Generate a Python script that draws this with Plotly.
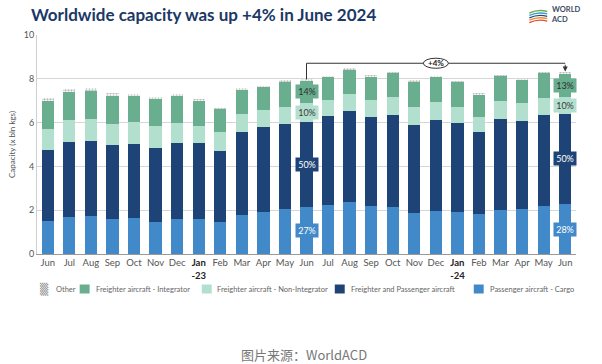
import plotly.graph_objects as go

# ---------------- data ----------------
months = ["Jun", "Jul", "Aug", "Sep", "Oct", "Nov", "Dec", "Jan-23", "Feb", "Mar", "Apr", "May",
          "Jun", "Jul", "Aug", "Sep", "Oct", "Nov", "Dec", "Jan-24", "Feb", "Mar", "Apr", "May", "Jun"]

passenger_cargo = [1.52, 1.70, 1.72, 1.61, 1.64, 1.47, 1.61, 1.61, 1.44, 1.76, 1.91, 2.04,
                   2.13, 2.26, 2.36, 2.20, 2.16, 1.85, 1.98, 1.91, 1.81, 1.99, 2.07, 2.19, 2.28]
freighter_passenger = [3.25, 3.42, 3.45, 3.36, 3.38, 3.38, 3.44, 3.44, 3.26, 3.82, 3.87, 3.89,
                       3.92, 4.02, 4.17, 4.05, 4.18, 4.02, 4.16, 4.08, 3.77, 4.16, 4.01, 4.15, 4.12]
freighter_non_integrator = [0.96, 1.00, 0.98, 0.96, 1.00, 1.00, 0.95, 0.80, 0.88, 0.82, 0.79, 0.80,
                            0.86, 0.77, 0.78, 0.79, 0.83, 0.86, 0.82, 0.74, 0.67, 0.84, 0.80, 0.79, 0.77]
freighter_integrator = [1.27, 1.30, 1.28, 1.27, 1.24, 1.26, 1.25, 1.15, 1.05, 1.12, 1.06, 1.14,
                        1.01, 1.04, 1.12, 1.06, 1.11, 1.14, 1.13, 1.13, 1.03, 1.14, 1.08, 1.14, 1.07]
other = [0.14, 0.13, 0.14, 0.14, 0.03, 0.03, 0.04, 0.04, 0.03, 0.03, 0.03, 0.03,
         0.03, 0.03, 0.04, 0.03, 0.03, 0.03, 0.03, 0.03, 0.03, 0.03, 0.03, 0.03, 0.03]

# share labels: month index -> labels (cargo, F&P, non-integrator, integrator)
share_labels = {12: ["27%", "50%", "10%", "14%"], 24: ["28%", "50%", "10%", "13%"]}
growth_label = "+4%"
growth_from, growth_to = 12, 24

# ---------------- style ----------------
C_CARGO = "#4189c8"
C_FP = "#1e4376"
C_NI = "#b3dfcf"
C_INT = "#68ae8f"
FONT = "Lato"
W, H = 602, 364
L, R, T, B = 33, 26, 35, 110
PW, PH = W - L - R, H - T - B

def px2x(px):
    return (px - L) / PW

def py2y(py):
    return (H - B - py) / PH

x = list(range(len(months)))
fig = go.Figure()

series = [
    ("Passenger aircraft - Cargo", passenger_cargo, C_CARGO),
    ("Freighter and Passenger aircraft", freighter_passenger, C_FP),
    ("Freighter aircraft - Non-Integrator", freighter_non_integrator, C_NI),
    ("Freighter aircraft - Integrator", freighter_integrator, C_INT),
]
for name, vals, col in series:
    fig.add_trace(go.Bar(x=x, y=vals, name=name, marker=dict(color=col, line=dict(width=0)),
                         width=0.57, showlegend=False, hoverinfo="y+name"))
fig.add_trace(go.Bar(x=x, y=other, name="Other", width=0.57, showlegend=False,
                     marker=dict(color="white", line=dict(width=0),
                                 pattern=dict(shape=".", fgcolor="#777", bgcolor="white",
                                              size=3, solidity=0.45))))

# ---------------- share labels ----------------
for idx, labs in share_labels.items():
    segs = [passenger_cargo[idx], freighter_passenger[idx],
            freighter_non_integrator[idx], freighter_integrator[idx]]
    cols = [C_CARGO, C_FP, C_NI, C_INT]
    tcols = ["white", "white", "#3a3a3a", "#2e2e2e"]
    base = 0
    for s, lab, c, tc in zip(segs, labs, cols, tcols):
        fig.add_annotation(x=idx, y=base + s / 2, text=lab, showarrow=False,
                           font=dict(family=FONT, size=9, color=tc),
                           bgcolor=c, borderpad=1, width=20)
        base += s

# ---------------- growth bracket ----------------
tot = [a + b + c + d + e for a, b, c, d, e in zip(passenger_cargo, freighter_passenger,
                                                  freighter_non_integrator, freighter_integrator, other)]
BRACKET_Y = 8.71
fig.add_trace(go.Scatter(x=[growth_from, growth_from, growth_to],
                         y=[tot[growth_from] + 0.02, BRACKET_Y, BRACKET_Y],
                         mode="lines", line=dict(color="#333", width=1),
                         showlegend=False, hoverinfo="skip"))
fig.add_annotation(x=growth_to, y=tot[growth_to] + 0.06, ax=growth_to, ay=BRACKET_Y,
                   axref="x", ayref="y", xref="x", yref="y", text="", showarrow=True,
                   arrowhead=2, arrowsize=1, arrowwidth=1, arrowcolor="#333")
mid = (growth_from + growth_to) / 2
fig.add_shape(type="circle", xref="x", yref="y", x0=mid - 0.58, x1=mid + 0.58,
              y0=BRACKET_Y - 0.23, y1=BRACKET_Y + 0.23,
              fillcolor="white", line=dict(color="#333", width=1), layer="above")
fig.add_annotation(x=mid, y=BRACKET_Y, text="<b>" + growth_label + "</b>", showarrow=False,
                   font=dict(family=FONT, size=8, color="#222"))

# ---------------- axes ----------------
ticktext = []
for m in months:
    if m.startswith("Jan"):
        a, b = m.split("-")
        ticktext.append("<b><span style='color:#222'>%s<br>-%s</span></b>" % (a, b))
    else:
        ticktext.append(m)

fig.update_xaxes(range=[-0.5, len(months) - 0.5], tickvals=x, ticktext=ticktext,
                 showgrid=False, showline=True, linecolor="#9a9a9a", linewidth=1,
                 ticks="", tickfont=dict(family=FONT, size=9.5, color="#555"), fixedrange=True)
fig.update_yaxes(range=[0, 10], tickvals=[0, 2, 4, 6, 8, 10], showgrid=True,
                 gridcolor="#d6d6d6", gridwidth=1, zeroline=False,
                 showline=True, linecolor="#cfcfcf", ticks="",
                 tickfont=dict(family=FONT, size=9, color="#555"),
                 title=dict(text="Capacity (x bln kgs)", standoff=6,
                            font=dict(family=FONT, size=8, color="#555")))

# ---------------- title, logo, caption ----------------
fig.add_annotation(xref="paper", yref="paper", x=px2x(25), y=py2y(14), xanchor="left",
                   yanchor="middle", showarrow=False,
                   text="<b>Worldwide capacity was up +4% in June 2024</b>",
                   font=dict(family=FONT, size=17, color="#1b3866"))
fig.add_annotation(xref="paper", yref="paper", x=px2x(549), y=py2y(14), xanchor="left",
                   yanchor="middle", showarrow=False, align="left",
                   text="<b>WORLD<br>ACD</b>",
                   font=dict(family=FONT, size=7.5, color="#3d4b66"))
swoosh_cols = ["#6db04e", "#3f9bd6", "#1f4e8c", "#f0902a", "#e24b3b"]
for i, c in enumerate(swoosh_cols):
    y0 = 10 + i * 2.4
    fig.add_shape(type="path", xref="paper", yref="paper",
                  path="M %f %f Q %f %f %f %f" % (px2x(529), py2y(y0 + 3), px2x(538), py2y(y0 - 1),
                                                 px2x(547), py2y(y0 + 1.5)),
                  line=dict(color=c, width=1.4))
fig.add_annotation(xref="paper", yref="paper", x=px2x(302), y=py2y(354), xanchor="center",
                   yanchor="middle", showarrow=False, text="图片来源：WorldACD",
                   font=dict(family="Noto Sans CJK SC", size=13, color="#777"))

# ---------------- manual legend ----------------
legend_items = [("Other", None, 35, 50), ("Freighter aircraft - Integrator", C_INT, 76, 90),
                ("Freighter aircraft - Non-Integrator", C_NI, 199, 212),
                ("Freighter and Passenger aircraft", C_FP, 333, 347),
                ("Passenger aircraft - Cargo", C_CARGO, 473, 487)]
LY = 289
for name, col, ix, tx in legend_items:
    if col is None:
        fig.add_annotation(xref="paper", yref="paper", x=px2x(ix - 1), y=py2y(LY), xanchor="left",
                           yanchor="middle", showarrow=False, text="▒",
                           font=dict(family="DejaVu Sans", size=11, color="#8a8a8a"))
    else:
        fig.add_shape(type="rect", xref="paper", yref="paper", x0=px2x(ix), x1=px2x(ix + 10),
                      y0=py2y(LY + 4.5), y1=py2y(LY - 4.5), fillcolor=col, line=dict(width=0))
    fig.add_annotation(xref="paper", yref="paper", x=px2x(tx), y=py2y(LY), xanchor="left",
                       yanchor="middle", showarrow=False, text=name,
                       font=dict(family=FONT, size=7.5, color="#666"))

fig.update_layout(width=W, height=H, margin=dict(l=L, r=R, t=T, b=B),
                  barmode="stack", bargap=0.43, plot_bgcolor="white", paper_bgcolor="white",
                  showlegend=False, font=dict(family=FONT))

fig.write_html("out.html", config={"displayModeBar": False},
               post_script="document.body.style.margin='0';document.body.style.padding='0';")
